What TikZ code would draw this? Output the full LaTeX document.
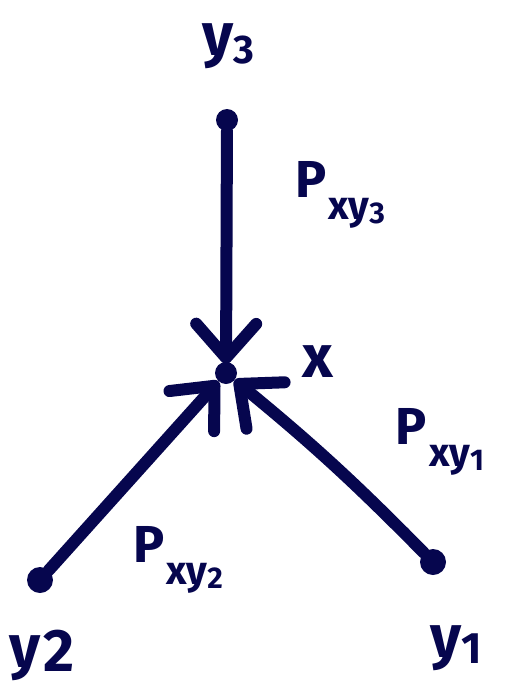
\documentclass[tikz,border=0pt]{standalone}
\usepackage{fontspec}
\setmainfont{Fira Sans}[UprightFont=* SemiBold, BoldFont=* Bold]
\usetikzlibrary{arrows.meta}
\definecolor{ink}{RGB}{6,6,78}
\tikzset{
  dotnode/.style={circle,fill=ink,inner sep=0pt,minimum size=#1},
  link/.style={draw=ink,line width=12pt,line cap=round,
    -{Straight Barb[length=34pt,width=60pt,line cap=round,line join=round]}},
  lbl/.style={text=ink,font=\bfseries\fontsize{60}{60}\selectfont,inner sep=0pt},
  plbl/.style={text=ink,font=\bfseries\fontsize{52}{52}\selectfont,inner sep=0pt},
}
\newcommand{\psub}[2]{P\kern2pt\raisebox{-22pt}{\fontsize{40}{40}\selectfont x#1\raisebox{-4pt}{\fontsize{30}{30}\selectfont #2}}}
\begin{document}
\begin{tikzpicture}[x=1pt,y=-1pt]
\useasboundingbox (0,0) rectangle (504,696);
\node[dotnode=22pt] (y3d) at (227,120) {};
\node[dotnode=22pt] (c) at (226,373) {};
\node[dotnode=26pt] (y2d) at (40,580) {};
\node[dotnode=26pt] (y1d) at (433,562) {};
\draw[link,shorten >=-2pt] (y3d) -- (c);
\draw[link,shorten >=0pt] (y2d) -- (c);
\draw[link,shorten >=0pt] (y1d) to[bend right=3] (c);
\node[lbl] (ly3) at (228,46) {y\raisebox{-8pt}{\fontsize{40}{40}\selectfont 3}};
\node[lbl] (lx) at (318,362) {x};
\node[lbl] (ly2) at (42,655) {y\kern2pt\raisebox{-4pt}{2}};
\node[lbl] (ly1) at (456,648) {y\raisebox{-6pt}{\fontsize{44}{44}\selectfont 1}};
\node[plbl] (p3) at (340,195) {\psub{y}{3}};
\node[plbl] (p1) at (440,442) {\psub{y}{1}};
\node[plbl] (p2) at (178,560) {\psub{y}{2}};
\end{tikzpicture}
\end{document}
